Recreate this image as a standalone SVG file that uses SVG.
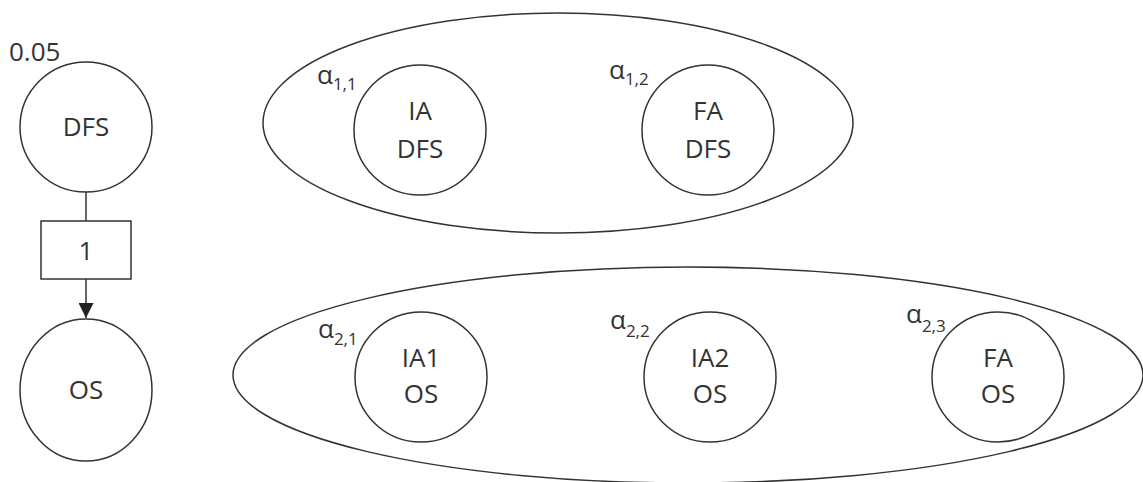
<svg xmlns="http://www.w3.org/2000/svg" width="1143" height="482" viewBox="0 0 1143 482">
  <style>
    .shape { fill: none; stroke: #333; stroke-width: 1.5; }
    .box { fill: #fff; stroke: #333; stroke-width: 1.5; }
    .edge { fill: none; stroke: #333; stroke-width: 1.5; }
    .lbl { font-family: "Open Sans", "Liberation Sans", sans-serif; font-size: 26px; fill: #333; text-anchor: middle; }
    .al { font-family: "Open Sans", "Liberation Sans", sans-serif; font-size: 26px; fill: #333; }
    .sub { font-size: 17px; }
  </style>
  <defs>
    <marker id="arrow" markerUnits="userSpaceOnUse" markerWidth="15" markerHeight="15" refX="15" refY="7.5" orient="auto">
      <path d="M0,0 L15,7.5 L0,15 z" fill="#222"/>
    </marker>
  </defs>

  <rect width="1143" height="482" fill="#fff"/>

  <!-- group outlines -->
  <g id="group-dfs">
    <ellipse class="shape" cx="558" cy="123" rx="295" ry="110"/>
  </g>
  <g id="group-os">
    <ellipse class="shape" cx="688" cy="375" rx="455" ry="108"/>
  </g>

  <!-- connectors -->
  <g id="connectors">
    <line class="edge" x1="86" y1="192" x2="86" y2="221"/>
    <line class="edge" x1="86" y1="279" x2="86" y2="318" marker-end="url(#arrow)"/>
  </g>

  <!-- left chain -->
  <g id="node-dfs">
    <ellipse class="shape" cx="86" cy="127" rx="66" ry="65"/>
    <text class="lbl" x="86" y="136">DFS</text>
    <text class="al" x="9" y="61">0.05</text>
  </g>
  <g id="node-weight">
    <rect class="box" x="41" y="221" width="90" height="58"/>
    <text class="lbl" x="86" y="260">1</text>
  </g>
  <g id="node-os">
    <ellipse class="shape" cx="86" cy="390" rx="66" ry="71"/>
    <text class="lbl" x="86" y="399">OS</text>
  </g>

  <!-- DFS sub-nodes -->
  <g id="node-ia-dfs">
    <ellipse class="shape" cx="420" cy="130" rx="66" ry="65"/>
    <text class="lbl" x="420" y="120">IA</text>
    <text class="lbl" x="420" y="158">DFS</text>
    <text class="al" x="317" y="84">α<tspan class="sub" dy="6">1,1</tspan></text>
  </g>
  <g id="node-fa-dfs">
    <ellipse class="shape" cx="708" cy="130" rx="66" ry="65"/>
    <text class="lbl" x="708" y="120">FA</text>
    <text class="lbl" x="708" y="158">DFS</text>
    <text class="al" x="609" y="79">α<tspan class="sub" dy="6">1,2</tspan></text>
  </g>

  <!-- OS sub-nodes -->
  <g id="node-ia1-os">
    <ellipse class="shape" cx="421" cy="377" rx="66" ry="65"/>
    <text class="lbl" x="421" y="367">IA1</text>
    <text class="lbl" x="421" y="403">OS</text>
    <text class="al" x="318" y="338">α<tspan class="sub" dy="7">2,1</tspan></text>
  </g>
  <g id="node-ia2-os">
    <ellipse class="shape" cx="710" cy="377" rx="66" ry="65"/>
    <text class="lbl" x="710" y="367">IA2</text>
    <text class="lbl" x="710" y="403">OS</text>
    <text class="al" x="610" y="329">α<tspan class="sub" dy="8">2,2</tspan></text>
  </g>
  <g id="node-fa-os">
    <ellipse class="shape" cx="998" cy="377" rx="66" ry="65"/>
    <text class="lbl" x="998" y="367">FA</text>
    <text class="lbl" x="998" y="403">OS</text>
    <text class="al" x="906" y="323">α<tspan class="sub" dy="9">2,3</tspan></text>
  </g>
</svg>
